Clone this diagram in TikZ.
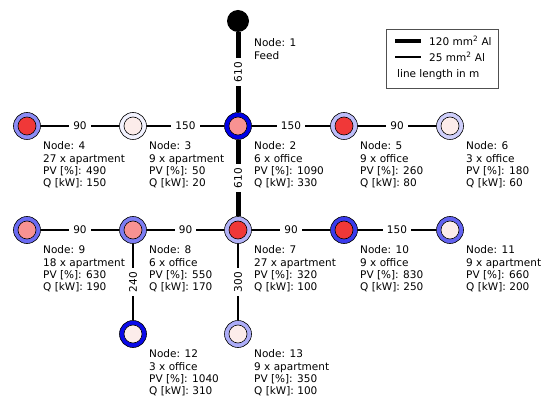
\documentclass[tikz,border=0pt]{standalone}
\usepackage{fontspec}
\setmainfont{DejaVu Sans}
\newcommand{\lblfont}{\fontsize{10.5}{12.4}\selectfont}
\definecolor{mblue}{RGB}{0,0,232}
\definecolor{fred}{RGB}{240,56,56}
\definecolor{fsal}{RGB}{248,146,146}
\definecolor{fpale}{RGB}{252,236,234}
\definecolor{legframe}{RGB}{80,80,80}
\begin{document}
\begin{tikzpicture}[x=1pt,y=-1pt,
  ring/.style={circle, draw=black, line width=0.6pt, minimum size=27pt, inner sep=0pt},
  core/.style={circle, draw=black, line width=0.6pt, minimum size=18pt, inner sep=0pt},
  feed/.style={circle, fill=black, minimum size=22pt, inner sep=0pt},
  lbl/.style={anchor=north west, align=left, inner sep=0pt, font=\lblfont},
  len/.style={fill=white, inner xsep=4pt, inner ysep=1pt, font=\lblfont},
  thickline/.style={line width=5pt},
  thinline/.style={line width=1.5pt},
  legthick/.style={line width=4pt},
  legthin/.style={line width=1.5pt}]
\useasboundingbox (0,0) rectangle (543,403);

% nodes
\node[feed] (n1) at (238,21) {};
\node[ring, fill=mblue!45!white] (n4) at (27,126) {};
\node[core, fill=fred] (n4c) at (n4) {};
\node[ring, fill=mblue!5!white] (n3) at (133,126) {};
\node[core, fill=fpale] (n3c) at (n3) {};
\node[ring, fill=mblue!100!white] (n2) at (238,126) {};
\node[core, fill=fsal] (n2c) at (n2) {};
\node[ring, fill=mblue!26!white] (n5) at (344,126) {};
\node[core, fill=fred] (n5c) at (n5) {};
\node[ring, fill=mblue!19!white] (n6) at (450,126) {};
\node[core, fill=fpale] (n6c) at (n6) {};

\node[ring, fill=mblue!58!white] (n9) at (27,230) {};
\node[core, fill=fsal] (n9c) at (n9) {};
\node[ring, fill=mblue!51!white] (n8) at (133,230) {};
\node[core, fill=fsal] (n8c) at (n8) {};
\node[ring, fill=mblue!30!white] (n7) at (238,230) {};
\node[core, fill=fred] (n7c) at (n7) {};
\node[ring, fill=mblue!77!white] (n10) at (344,230) {};
\node[core, fill=fred] (n10c) at (n10) {};
\node[ring, fill=mblue!61!white] (n11) at (450,230) {};
\node[core, fill=fpale] (n11c) at (n11) {};

\node[ring, fill=mblue!96!white] (n12) at (133,334) {};
\node[core, fill=fpale] (n12c) at (n12) {};
\node[ring, fill=mblue!32!white] (n13) at (238,334) {};
\node[core, fill=fpale] (n13c) at (n13) {};

% connectors
\draw[thickline] (n1) -- node[len, rotate=90] (e12) {610} (n2);
\draw[thickline] (n2) -- node[len, rotate=90] (e27) {610} (n7);
\draw[thinline] (n4) -- node[len] (e43) {90} (n3);
\draw[thinline] (n3) -- node[len] (e32) {150} (n2);
\draw[thinline] (n2) -- node[len] (e25) {150} (n5);
\draw[thinline] (n5) -- node[len] (e56) {90} (n6);
\draw[thinline] (n9) -- node[len] (e98) {90} (n8);
\draw[thinline] (n8) -- node[len] (e87) {90} (n7);
\draw[thinline] (n7) -- node[len] (e710) {90} (n10);
\draw[thinline] (n10) -- node[len] (e1011) {150} (n11);
\draw[thinline] (n8) -- node[len, rotate=90] (e812) {240} (n12);
\draw[thinline] (n7) -- node[len, rotate=90] (e713) {300} (n13);

% labels
\node[lbl] (t1) at (254,38.5) {Node: 1\\Feed};
\node[lbl] (t4) at (43,141.5) {Node: 4\\27 x apartment\\PV [\%]: 490\\Q [kW]: 150};
\node[lbl] (t3) at (149,141.5) {Node: 3\\9 x apartment\\PV [\%]: 50\\Q [kW]: 20};
\node[lbl] (t2) at (254,141.5) {Node: 2\\6 x office\\PV [\%]: 1090\\Q [kW]: 330};
\node[lbl] (t5) at (360,141.5) {Node: 5\\9 x office\\PV [\%]: 260\\Q [kW]: 80};
\node[lbl] (t6) at (466,141.5) {Node: 6\\3 x office\\PV [\%]: 180\\Q [kW]: 60};
\node[lbl] (t9) at (43,245.5) {Node: 9\\18 x apartment\\PV [\%]: 630\\Q [kW]: 190};
\node[lbl] (t8) at (149,245.5) {Node: 8\\6 x office\\PV [\%]: 550\\Q [kW]: 170};
\node[lbl] (t7) at (254,245.5) {Node: 7\\27 x apartment\\PV [\%]: 320\\Q [kW]: 100};
\node[lbl] (t10) at (360,245.5) {Node: 10\\9 x office\\PV [\%]: 830\\Q [kW]: 250};
\node[lbl] (t11) at (466,245.5) {Node: 11\\9 x apartment\\PV [\%]: 660\\Q [kW]: 200};
\node[lbl] (t12) at (149,349.5) {Node: 12\\3 x office\\PV [\%]: 1040\\Q [kW]: 310};
\node[lbl] (t13) at (254,349.5) {Node: 13\\9 x apartment\\PV [\%]: 350\\Q [kW]: 100};

% legend
\node[draw=legframe, line width=0.8pt, minimum width=112pt, minimum height=59pt, inner sep=0pt] (leg) at (442,58.5) {};
\coordinate (la1) at (395,41);
\coordinate (la2) at (421,41);
\coordinate (lb1) at (395,57);
\coordinate (lb2) at (421,57);
\draw[legthick] (la1) -- (la2);
\draw[legthin] (lb1) -- (lb2);
\node[anchor=west, inner sep=0pt, font=\lblfont] (lt1) at (429,41) {120 mm\textsuperscript{2} Al};
\node[anchor=west, inner sep=0pt, font=\lblfont] (lt2) at (429,57) {25 mm\textsuperscript{2} Al};
\node[anchor=west, inner sep=0pt, font=\lblfont] (lt3) at (397,75) {line length in m};
\end{tikzpicture}
\end{document}
